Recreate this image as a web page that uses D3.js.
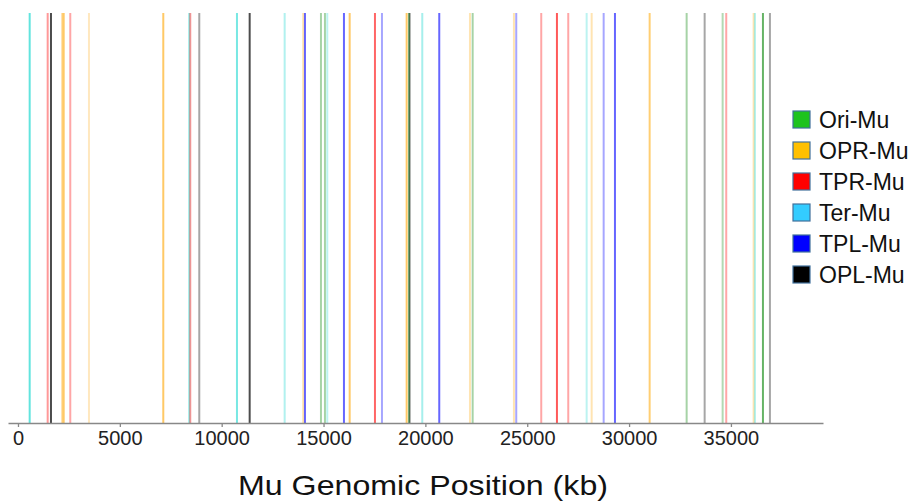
<!DOCTYPE html>
<html>
<head>
<meta charset="utf-8">
<script src="https://cdn.jsdelivr.net/npm/d3@7"></script>
<style>
  body { margin: 0; background: #fff; }
  text { font-family: "Liberation Sans", Arial, sans-serif; }
</style>
</head>
<body>
<svg id="chart" width="919" height="501"></svg>
<script>
// legend / category order
const categories = ['Ori-Mu', 'OPR-Mu', 'TPR-Mu', 'Ter-Mu', 'TPL-Mu', 'OPL-Mu'];

// position of each Mu site (kb) and its category
const positions = [
  574, 1458, 1620, 2180, 2250, 2567, 3485, 7133, 8409, 8458,
  8900, 10751, 11374, 13092, 14006, 14089, 14874, 15070, 15183, 16003,
  16283, 17525, 17869, 19081, 19200, 19228, 19847, 20681, 22189, 22321,
  24348, 24461, 25688, 26459, 27014, 27917, 28163, 28752, 29307, 31010,
  32826, 33710, 34593, 34770, 36115, 36179, 36572, 36915
];
const siteTypes = [
  'Ter-Mu', 'TPR-Mu', 'OPL-Mu', 'OPR-Mu', 'OPR-Mu', 'TPR-Mu', 'OPR-Mu', 'OPR-Mu', 'Ter-Mu', 'TPR-Mu',
  'OPL-Mu', 'Ter-Mu', 'OPL-Mu', 'Ter-Mu', 'OPR-Mu', 'TPL-Mu', 'Ori-Mu', 'Ori-Mu', 'Ter-Mu', 'TPL-Mu',
  'OPR-Mu', 'TPR-Mu', 'TPL-Mu', 'OPR-Mu', 'Ori-Mu', 'OPL-Mu', 'Ter-Mu', 'TPL-Mu', 'OPR-Mu', 'Ori-Mu',
  'OPR-Mu', 'TPL-Mu', 'TPR-Mu', 'TPR-Mu', 'TPR-Mu', 'Ter-Mu', 'OPR-Mu', 'TPL-Mu', 'TPL-Mu', 'OPR-Mu',
  'Ori-Mu', 'OPL-Mu', 'Ori-Mu', 'TPR-Mu', 'OPR-Mu', 'Ter-Mu', 'Ori-Mu', 'OPL-Mu'
];
// relative signal of each site (drawn as line opacity)
const signal = [
  7, 4, 7, 5, 5, 3.5, 2.5, 6, 5, 4,
  3.5, 6, 7, 3.5, 3.5, 6, 3.5, 3.5, 3, 6,
  6, 6, 3.5, 6, 5, 4, 4, 6, 3, 3.5,
  3, 3.5, 3.5, 6.5, 3.5, 3, 3, 3.5, 6, 5.5,
  3.5, 3.5, 3, 3.5, 3, 3.5, 6, 3.5
];

const xTicks = [0, 5000, 10000, 15000, 20000, 25000, 30000, 35000];

const lineColors = ['#008000', '#ffa500', '#ff0000', '#20d8d0', '#0000ff', '#000000'];
const legendColors = ['#1ec31e', '#ffc000', '#ff0000', '#33ccff', '#0000ff', '#000000'];

const sites = positions.map((p, i) => ({ pos: p, type: siteTypes[i], signal: signal[i] }));

const svg = d3.select('#chart');
const margin = { top: 13, left: 8, right: 96, bottom: 78 };
const width = +svg.attr('width');
const height = +svg.attr('height');
const axisY = height - margin.bottom;

const x = d3.scaleLinear()
  .domain([-490, 39520])
  .range([margin.left, width - margin.right]);

const color = d3.scaleOrdinal().domain(categories).range(lineColors);
const opacity = d3.scaleLinear().domain([0, 10]).range([0, 1]);

// site lines
svg.append('g')
  .attr('class', 'sites')
  .selectAll('line')
  .data(sites)
  .join('line')
  .attr('x1', d => x(d.pos))
  .attr('x2', d => x(d.pos))
  .attr('y1', margin.top)
  .attr('y2', axisY)
  .attr('stroke', d => color(d.type))
  .attr('stroke-opacity', d => opacity(d.signal))
  .attr('stroke-width', 2);

// x axis
const xAxis = svg.append('g')
  .attr('transform', `translate(0,${axisY})`)
  .call(d3.axisBottom(x).tickValues(xTicks).tickFormat(d3.format('d')).tickSize(4).tickSizeOuter(0));

xAxis.select('.domain').attr('stroke', '#888').attr('stroke-width', 1.3);
xAxis.selectAll('.tick line').attr('stroke', '#888').attr('stroke-width', 1.3);
xAxis.selectAll('.tick text')
  .attr('y', 8)
  .attr('fill', '#222')
  .style('font-size', '20px')
  .style('font-family', '"Liberation Sans", Arial, sans-serif');

// axis title
svg.append('text')
  .attr('x', 423)
  .attr('y', 495)
  .attr('text-anchor', 'middle')
  .attr('fill', '#111')
  .attr('textLength', 370)
  .attr('lengthAdjust', 'spacingAndGlyphs')
  .style('font-size', '28px')
  .text('Mu Genomic Position (kb)');

// legend
const legend = svg.append('g')
  .attr('transform', 'translate(793,111)');

const items = legend.selectAll('g')
  .data(categories)
  .join('g')
  .attr('transform', (d, i) => `translate(0,${i * 31})`);

items.append('rect')
  .attr('width', 17)
  .attr('height', 17)
  .attr('fill', (d, i) => legendColors[i])
  .attr('stroke', '#41719c')
  .attr('stroke-width', 1.2);

items.append('text')
  .attr('x', 26)
  .attr('y', 17)
  .attr('fill', '#111')
  .style('font-size', '23px')
  .text(d => d);
</script>
</body>
</html>
